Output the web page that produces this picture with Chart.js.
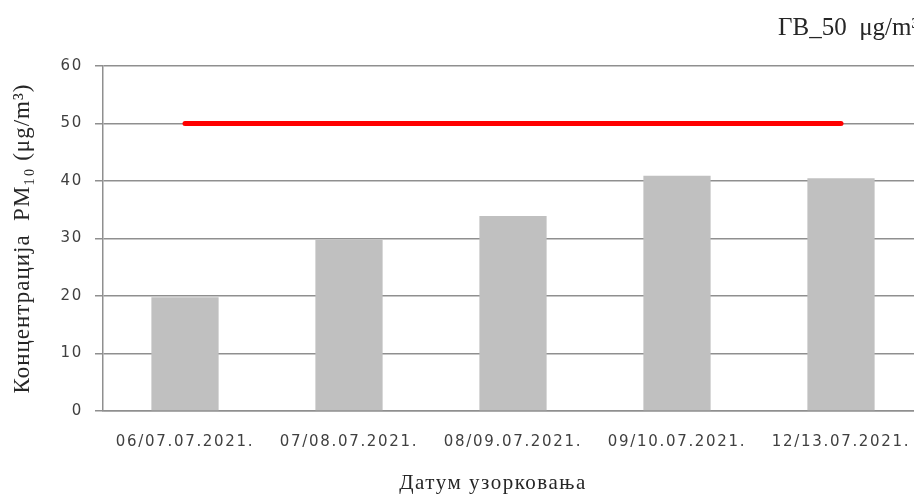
<!DOCTYPE html>
<html>
<head>
<meta charset="utf-8">
<script src="https://cdn.jsdelivr.net/npm/chart.js@4.4.1/dist/chart.umd.min.js"></script>
<style>
  html, body { margin: 0; padding: 0; background: #ffffff; overflow: hidden; }
  #wrap { position: relative; width: 928px; height: 496px; }
</style>
</head>
<body>
<div id="wrap"><canvas id="pmChart"></canvas></div>
<script>
// Podaci sa grafika
const datumi = ['06/07.07.2021.', '07/08.07.2021.', '08/09.07.2021.', '09/10.07.2021.', '12/13.07.2021.'];
const pm10 = [19.8, 29.8, 33.9, 40.9, 40.5];
const granicnaVrednost = [50, 50, 50, 50, 50];
const yTicks = [0, 10, 20, 30, 40, 50, 60];

// razmak izmedju slova na osama (original je razvucen)
const razmak = {
    x: { labels: '1.7px', title: '1.5px', pomak: -20 },
    y: { labels: '1.7px', title: '1px', pomak: 0 }
};

const spacingPlugin = {
    id: 'spacing',
    afterLayout(chart) {
        Object.values(chart.scales).forEach(scale => {
            if (scale._spaced) return;
            const r = razmak[scale.id];
            const origLabels = scale.drawLabels;
            const origTitle = scale.drawTitle;
            scale.drawLabels = function (area) {
                const ctx = this.ctx;
                ctx.save();
                ctx.letterSpacing = r.labels;
                origLabels.call(this, area);
                ctx.restore();
            };
            scale.drawTitle = function () {
                const ctx = this.ctx;
                ctx.save();
                ctx.letterSpacing = r.title;
                ctx.translate(r.pomak, 0);
                origTitle.call(this);
                ctx.restore();
            };
            scale._spaced = true;
        });
    }
};

const gridColor = '#8f8f8f';

new Chart(document.getElementById('pmChart'), {
    data: {
        labels: datumi,
        datasets: [
            {
                type: 'line',
                label: 'ГВ_50  μg/m³',
                data: granicnaVrednost,
                borderColor: '#ff0000',
                borderWidth: 5,
                borderCapStyle: 'round',
                pointRadius: 0,
                fill: false,
                order: 0
            },
            {
                type: 'bar',
                label: 'PM10',
                data: pm10,
                backgroundColor: '#c0c0c0',
                barPercentage: 0.41,
                categoryPercentage: 1.0,
                order: 1
            }
        ]
    },
    options: {
        responsive: true,
        maintainAspectRatio: false,
        animation: false,
        layout: {
            padding: { top: 12, right: 5, left: 0, bottom: 0 }
        },
        plugins: {
            legend: {
                position: 'top',
                align: 'end',
                labels: {
                    boxWidth: 0,
                    boxHeight: 0,
                    padding: 4,
                    color: '#262626',
                    font: { family: "'Liberation Serif', serif", size: 25 },
                    filter: item => item.datasetIndex === 0
                }
            },
            // prazan naslov samo kao razmak izmedju legende i grafika
            title: {
                display: true,
                text: '',
                weight: 500,
                font: { size: 10, lineHeight: 1 },
                padding: { top: 0, bottom: 5 }
            },
            tooltip: { enabled: false }
        },
        scales: {
            x: {
                grid: { display: false },
                border: { display: true, color: gridColor, width: 1.5 },
                ticks: {
                    color: '#404040',
                    padding: 14,
                    maxRotation: 0,
                    autoSkip: false,
                    font: { family: "'DejaVu Sans', sans-serif", size: 15 }
                },
                title: {
                    display: true,
                    text: 'Датум узорковања',
                    color: '#262626',
                    padding: { top: 0, bottom: 0 },
                    font: { family: "'Liberation Serif', serif", size: 21 }
                },
                afterFit: scale => { scale.height = 85; }
            },
            y: {
                min: 0,
                max: 60,
                afterBuildTicks: scale => { scale.ticks = yTicks.map(v => ({ value: v })); },
                grid: {
                    color: gridColor,
                    lineWidth: 1.5,
                    tickLength: 8,
                    drawTicks: true
                },
                border: { display: true, color: gridColor, width: 1.5 },
                ticks: {
                    color: '#404040',
                    padding: 12,
                    font: { family: "'DejaVu Sans', sans-serif", size: 15 }
                },
                title: {
                    display: true,
                    text: 'Концентрација  PM₁₀ (μg/m³)',
                    color: '#262626',
                    padding: { top: 9, bottom: 0 },
                    font: { family: "'Liberation Serif', serif", size: 23 }
                },
                afterFit: scale => { scale.width = 103; }
            }
        }
    },
    plugins: [spacingPlugin]
});
</script>
</body>
</html>
